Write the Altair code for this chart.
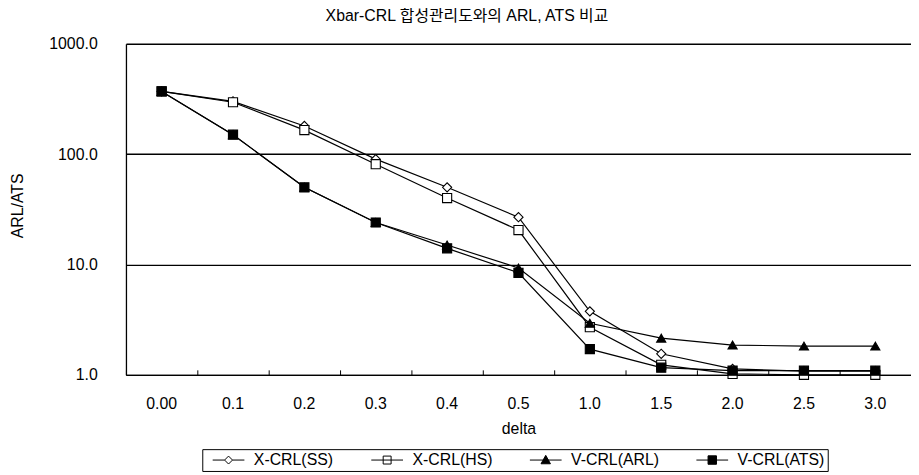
import altair as alt
import pandas as pd

# ---- data ----
deltas = ["0.00", "0.1", "0.2", "0.3", "0.4", "0.5", "1.0", "1.5", "2.0", "2.5", "3.0"]
series_names = ["X-CRL(SS)", "X-CRL(HS)", "V-CRL(ARL)", "V-CRL(ATS)"]
x_crl_ss = [370, 300, 180, 90, 50, 26.8, 3.76, 1.55, 1.13, 1.08, 1.08]
x_crl_hs = [370, 295, 165, 81, 40, 20.5, 2.7, 1.23, 1.02, 1.0, 1.0]
v_crl_arl = [370, 150, 50, 24, 15, 9.3, 2.93, 2.15, 1.86, 1.82, 1.82]
v_crl_ats = [370, 150, 50, 24, 14, 8.4, 1.71, 1.16, 1.09, 1.09, 1.09]
y_ticks = [1, 10, 100, 1000]

series_values = [x_crl_ss, x_crl_hs, v_crl_arl, v_crl_ats]
rows = []
for name, vals in zip(series_names, series_values):
    for i, (d, v) in enumerate(zip(deltas, vals)):
        rows.append({"series": name, "delta": d, "value": v, "idx": i})
df = pd.DataFrame(rows)

FONT = "Liberation Sans, Arial, Noto Sans CJK KR, sans-serif"

plot_shapes = ["diamond", "square", "triangle-up", "square"]
fills = ["white", "white", "black", "black"]
strokes = ["black", "black", "black", "black"]
legend_shapes = [
    "M-3.2,0L-0.8,0M0.8,0L3.2,0M-0.8,0L0,-0.8L0.8,0L0,0.8Z",
    "M-3.2,0L3.2,0M-0.8,-0.8L0.8,-0.8L0.8,0.8L-0.8,0.8Z",
    "M-3.2,0L3.2,0M-0.95,0.75L0,-0.95L0.95,0.75Z",
    "M-3.2,0L3.2,0M-0.85,-0.85L0.85,-0.85L0.85,0.85L-0.85,0.85Z",
]

x_scale = alt.Scale(type="band", domain=deltas, paddingInner=0, paddingOuter=0)

x_main = alt.X(
    "delta:O",
    scale=x_scale,
    sort=deltas,
    axis=alt.Axis(
        orient="bottom",
        title="delta",
        labelAngle=0,
        ticks=False,
        tickSize=0,
        labelPadding=21,
        titlePadding=9,
        domainColor="black",
        domainWidth=1.3,
        labelFont=FONT,
        labelFontSize=16,
        labelColor="black",
        titleFont=FONT,
        titleFontSize=16,
        titleFontWeight="normal",
        titleColor="black",
        grid=False,
    ),
)

x_ticks = alt.X(
    "delta:O",
    scale=x_scale,
    sort=deltas,
    axis=alt.Axis(
        orient="bottom",
        title=None,
        offset=-5,
        domain=False,
        labels=False,
        ticks=True,
        tickSize=5,
        tickBand="extent",
        tickColor="black",
        tickWidth=1,
        grid=False,
    ),
)

y_enc = alt.Y(
    "value:Q",
    scale=alt.Scale(type="log", domain=[1, 1000], nice=False),
    axis=alt.Axis(
        values=y_ticks,
        format=".1f",
        grid=True,
        gridColor="black",
        gridWidth=1.3,
        gridOpacity=1,
        ticks=False,
        tickSize=0,
        domainColor="black",
        domainWidth=1.3,
        labelPadding=29,
        labelFont=FONT,
        labelFontSize=16,
        labelColor="black",
        title="ARL/ATS",
        titleFont=FONT,
        titleFontSize=16,
        titleFontWeight="normal",
        titleColor="black",
        titleAngle=270,
        titleAlign="center",
        titleBaseline="middle",
        titleX=-109,
        titleY=163,
    ),
)

base = alt.Chart(df)

lines = base.mark_line(color="black", strokeWidth=1.2).encode(
    x=x_main,
    y=y_enc,
    detail="series:N",
    order="idx:Q",
)

points = base.mark_point(filled=True, stroke="black", strokeWidth=1.1, size=85, opacity=1).encode(
    x=x_ticks,
    y=y_enc,
    shape=alt.Shape("series:N", scale=alt.Scale(domain=series_names, range=plot_shapes), legend=None),
    fill=alt.Fill("series:N", scale=alt.Scale(domain=series_names, range=fills), legend=None),
)

legend_props = dict(
    orient="none",
    legendX=77,
    legendY=409,
    direction="horizontal",
    title=None,
    strokeColor="black",
    padding=3,
    symbolSize=100,
    symbolOffset=15.5,
    labelOffset=17.5,
    columnPadding=30,
    labelFont=FONT,
    labelFontSize=16,
    labelColor="black",
    symbolStrokeWidth=1,
    symbolOpacity=1,
)

legend_layer = base.mark_point(filled=True, strokeWidth=1, opacity=0).encode(
    x=alt.X("delta:O", scale=x_scale, sort=deltas, axis=None),
    y=y_enc,
    shape=alt.Shape("series:N", scale=alt.Scale(domain=series_names, range=legend_shapes),
                    legend=alt.Legend(**legend_props)),
    fill=alt.Fill("series:N", scale=alt.Scale(domain=series_names, range=fills),
                  legend=alt.Legend(**legend_props)),
    stroke=alt.Stroke("series:N", scale=alt.Scale(domain=series_names, range=strokes),
                      legend=alt.Legend(**legend_props)),
)

chart = (
    alt.layer(lines, points, legend_layer)
    .resolve_scale(shape="independent", fill="independent", stroke="independent")
    .resolve_axis(x="independent")
    .properties(
        width=792,
        height=334,
        padding={"left": 119, "top": 34, "right": 0, "bottom": 97},
        autosize="none",
        background="white",
        title=alt.TitleParams(
            text="Xbar-CRL 합성관리도와의 ARL, ATS 비교",
            font=FONT,
            fontSize=16,
            fontWeight="normal",
            color="black",
            anchor="middle",
            dx=-52,
            offset=12,
        ),
    )
    .configure_view(stroke=None)
)

chart.save("out.html", embed_options={"renderer": "svg", "actions": False})
